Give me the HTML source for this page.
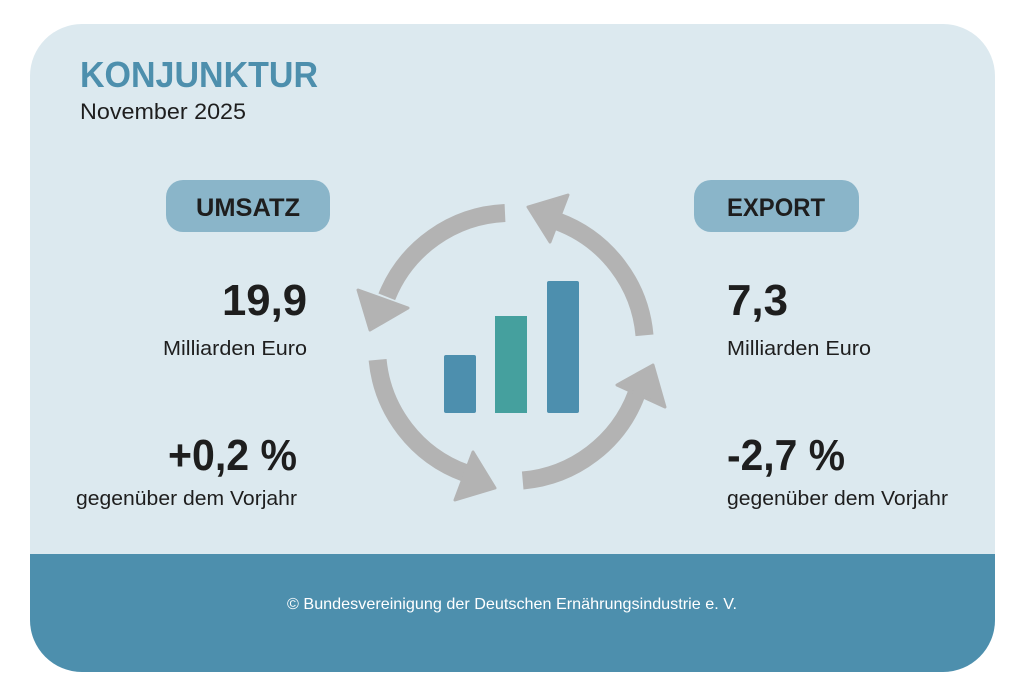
<!DOCTYPE html>
<html><head><meta charset="utf-8"><style>
html,body{margin:0;padding:0;background:#fff;}
svg{display:block;}
text{font-family:"Liberation Sans",sans-serif;}
</style></head><body>
<svg width="1024" height="697" viewBox="0 0 1024 697" xmlns="http://www.w3.org/2000/svg">
<defs><clipPath id="c"><rect x="30" y="24" width="965" height="648" rx="52"/></clipPath></defs>
<g clip-path="url(#c)">
<rect x="30" y="24" width="965" height="648" fill="#dce9ef"/>
<rect x="30" y="554" width="965" height="120" fill="#4d8fad"/>
</g>
<text x="80" y="87" font-size="36" font-weight="bold" fill="#4d8fad" textLength="238" lengthAdjust="spacingAndGlyphs">KONJUNKTUR</text>
<text x="80" y="119" font-size="22" fill="#1e1e1e" textLength="166" lengthAdjust="spacingAndGlyphs">November 2025</text>
<rect x="166" y="180" width="164" height="52" rx="17" fill="#8ab5c9"/>
<text x="248" y="216" font-size="25" font-weight="bold" fill="#1e1e1e" text-anchor="middle" textLength="104" lengthAdjust="spacingAndGlyphs">UMSATZ</text>
<rect x="694" y="180" width="165" height="52" rx="17" fill="#8ab5c9"/>
<text x="776" y="216" font-size="25" font-weight="bold" fill="#1e1e1e" text-anchor="middle" textLength="98" lengthAdjust="spacingAndGlyphs">EXPORT</text>
<text x="222" y="315" font-size="44" font-weight="bold" fill="#1e1e1e" textLength="85" lengthAdjust="spacingAndGlyphs">19,9</text>
<text x="307" y="355" font-size="20" fill="#1e1e1e" text-anchor="end" textLength="144" lengthAdjust="spacingAndGlyphs">Milliarden Euro</text>
<text x="168" y="470" font-size="44" font-weight="bold" fill="#1e1e1e" textLength="129" lengthAdjust="spacingAndGlyphs">+0,2 %</text>
<text x="76" y="505" font-size="20" fill="#1e1e1e" textLength="221" lengthAdjust="spacingAndGlyphs">gegenüber dem Vorjahr</text>
<text x="727" y="315" font-size="44" font-weight="bold" fill="#1e1e1e" textLength="61" lengthAdjust="spacingAndGlyphs">7,3</text>
<text x="727" y="355" font-size="20" fill="#1e1e1e" textLength="144" lengthAdjust="spacingAndGlyphs">Milliarden Euro</text>
<text x="727" y="470" font-size="44" font-weight="bold" fill="#1e1e1e" textLength="118" lengthAdjust="spacingAndGlyphs">-2,7 %</text>
<text x="727" y="505" font-size="20" fill="#1e1e1e" textLength="221" lengthAdjust="spacingAndGlyphs">gegenüber dem Vorjahr</text>
<text x="512" y="609" font-size="16" fill="#fff" text-anchor="middle" textLength="450" lengthAdjust="spacingAndGlyphs">© Bundesvereinigung der Deutschen Ernährungsindustrie e. V.</text>
<g fill="none" stroke="#b3b3b3" stroke-width="18">
<path d="M505,213 A134,134 0 0 0 386.8,296.8"/>
<path d="M377.6,359.8 A134,134 0 0 0 465.2,473"/>
<path d="M522.7,480.5 A134,134 0 0 0 636.4,394.2"/>
<path d="M644.5,335.3 A134,134 0 0 0 557.7,221.4"/>
</g>
<g fill="#b3b3b3" stroke="#b3b3b3" stroke-width="3" stroke-linejoin="round">
<polygon points="358,290 408,308 370,330"/>
<polygon points="473,452 455,500 495,488"/>
<polygon points="617,385 665,407 653,365"/>
<polygon points="550,242 568,195 528,207"/>
</g>
<rect x="444" y="355" width="32" height="58" rx="2" fill="#4d8fae"/>
<rect x="495" y="316" width="32" height="97" fill="#45a09e"/>
<rect x="547" y="281" width="32" height="132" rx="2" fill="#4d8fae"/>
</svg>
</body></html>
